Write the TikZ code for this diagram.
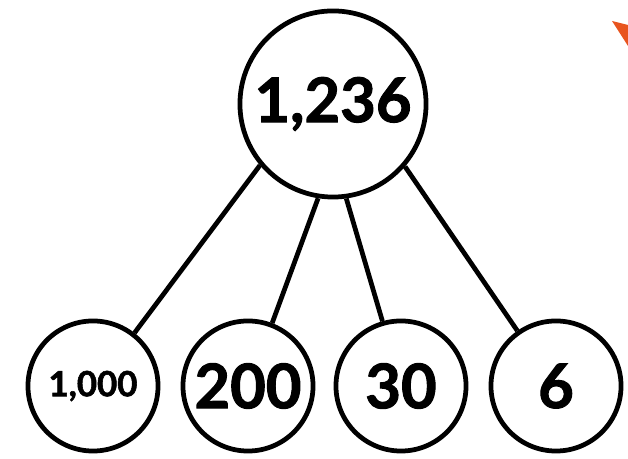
\documentclass[tikz,border=0pt]{standalone}
\usepackage{fontspec}
\setmainfont{Lato}[BoldFeatures={FakeBold=1.6}]
\usepackage{tikz}
\usetikzlibrary{positioning,shapes}

\definecolor{wedgeorange}{HTML}{E8541E}

\begin{document}
\begin{tikzpicture}
[x=0.01cm, y=-0.01cm, line width=1.35pt,
every node/.style={font=\bfseries},
part/.style={circle, draw, minimum size=1.3cm, inner sep=0pt},
whole/.style={circle, draw, minimum size=1.86cm, inner sep=0pt},
big/.style={font=\bfseries\fontsize{17.5}{20}\selectfont},
small/.style={font=\bfseries\fontsize{9.9}{12}\selectfont}
]
  \useasboundingbox (0,0) rectangle (628,459);

  \node[whole,big]	(0) at (333,104)	{1,236};
  \node[part,small]	(1) at (93,386)		{1,000};
  \node[part,big]	(2) at (248,386)	{200};
  \node[part,big]	(3) at (401,386)	{30};
  \node[part,big]	(4) at (556,386)	{6};

  \draw
	(0.220) -- (1.52)
	(0.261) -- (2.69)
	(0.278) -- (3.106)
	(0.319) -- (4.125)
    ;

  % corner mark
  \fill[wedgeorange] (612,21) -- (628,25) -- (628,46) -- cycle;
\end{tikzpicture}
\end{document}
